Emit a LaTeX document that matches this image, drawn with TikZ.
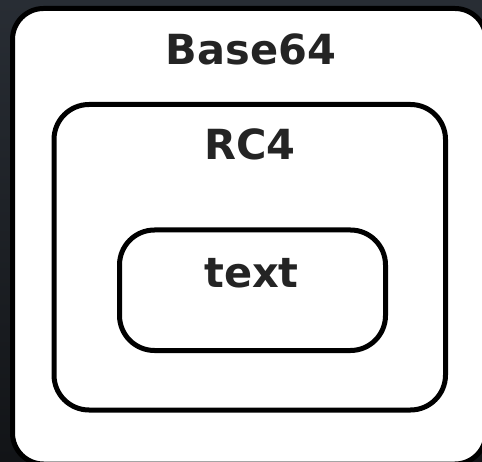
\documentclass[tikz,border=0pt]{standalone}
\usepackage{fontspec}
\setmainfont{DejaVu Sans}
\definecolor{bgtop}{RGB}{40,45,52}
\definecolor{bgbot}{RGB}{18,20,23}
\definecolor{ink}{RGB}{36,36,36}
\tikzset{
  layerbox/.style={draw=black, fill=white, line width=5pt, inner sep=0pt, rounded corners=#1},
  layerlabel/.style={text=ink, font=\bfseries\fontsize{41.5}{41.5}\selectfont, anchor=base, inner sep=0pt}
}
\begin{document}
\begin{tikzpicture}[x=1pt,y=1pt]
\useasboundingbox (0,0) rectangle (482,461);
\clip (0,0) rectangle (482,461);
\shade[top color=bgtop, bottom color=bgbot] (0,0) rectangle (482,461);
\node[layerbox=31pt, minimum width=473.5pt, minimum height=455.5pt] (outer) at (249.25,224.75) {};
\node[layerbox=35pt, minimum width=391.5pt, minimum height=305.5pt] (middle) at (249.75,203.75) {};
\node[layerbox=35pt, minimum width=266pt, minimum height=120.5pt] (inner) at (252.5,170.75) {};
\node[layerlabel] (base64) at (251,396) {Base64};
\node[layerlabel] (rc4) at (250,301) {RC4};
\node[layerlabel] (text) at (251.5,173) {text};
\end{tikzpicture}
\end{document}
